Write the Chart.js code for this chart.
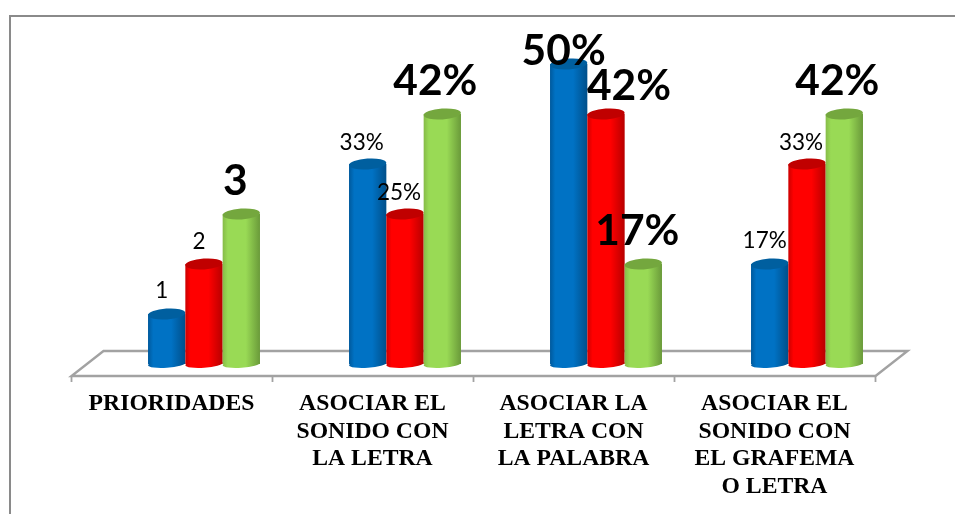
<!DOCTYPE html>
<html><head><meta charset="utf-8">
<style>html,body{margin:0;padding:0;background:#fff}#w{width:955px;height:514px;position:relative}</style>
<script src="https://cdn.jsdelivr.net/npm/chart.js@4"></script>
</head><body><div id="w"><canvas id="c" width="955" height="514"></canvas></div>
<script>
const categories = [
  ["PRIORIDADES"],
  ["ASOCIAR EL","SONIDO CON","LA LETRA"],
  ["ASOCIAR LA","LETRA CON","LA PALABRA"],
  ["ASOCIAR EL","SONIDO CON","EL GRAFEMA","O LETRA"]
];
const blueValues  = [1,4,6,2];
const redValues   = [2,3,5,4];
const greenValues = [3,5,2,5];
const blueLabels  = ["1","33%","50%","17%"];
const redLabels   = ["2","25%","42%","33%"];
const greenLabels = ["3","42%","17%","42%"];

const labelSets = [blueLabels, redLabels, greenLabels];
// label nudges from the top of each cylinder [dx, baseline dy]
const nudges = [
  [[-5,-16],[-6,-14],[-5,1],[-5,-16]],
  [[-5,-15],[-6,-14],[23,-14],[-6,-14]],
  [[-6,-19],[-7,-19],[-6,-19],[-7,-19]]
];
const isBig = (ds,i) => ds===2 || i===2;
const palettes = [
  {edgeL:'#00599c',mid:'#0072c4',edgeR:'#004f8a',cap:'#005f9f'},
  {edgeL:'#cc0000',mid:'#ff0000',edgeR:'#b80000',cap:'#c00000'},
  {edgeL:'#86bb48',mid:'#99da55',edgeR:'#6a9a3a',cap:'#74a73e'}
];
const TILT=-0.07, RY=5.4;

function grad(ctx,x0,x1,p){
  const g=ctx.createLinearGradient(x0,0,x1,0);
  g.addColorStop(0,p.edgeL);g.addColorStop(.14,p.mid);g.addColorStop(.62,p.mid);g.addColorStop(1,p.edgeR);
  return g;
}

// The library positions the bars; they are painted left to right so each cylinder overlaps the previous one.
const cylinders={
  id:'cylinders',
  beforeDatasetDraw(){return false},
  afterDatasetsDraw(chart){
    const ctx=chart.ctx;
    ctx.save();
    palettes.forEach((p,ds)=>{
      chart.getDatasetMeta(ds).data.forEach(el=>{
        const rx=el.width/2, g=grad(ctx,el.x-rx,el.x+rx,p);
        ctx.fillStyle=g;
        ctx.fillRect(el.x-rx,el.y,el.width,el.base-el.y);
        ctx.beginPath();ctx.ellipse(el.x,el.base,rx,RY-1.6,TILT,0,Math.PI*2);ctx.fill();
        ctx.fillStyle=p.cap;
        ctx.beginPath();ctx.ellipse(el.x,el.y,rx,RY,TILT,0,Math.PI*2);ctx.fill();
      });
    });
    ctx.restore();
  }
};
const floorAndFrame={
  id:'floorAndFrame',
  beforeDatasetsDraw(chart){
    const ctx=chart.ctx, xs=chart.scales.x, base=chart.chartArea.bottom;
    const depth=32, front=base+12, back=base-13, n=categories.length;
    ctx.save();
    ctx.strokeStyle='#8a8a8a';ctx.lineWidth=2;
    ctx.beginPath();ctx.moveTo(10,514);ctx.lineTo(10,16);ctx.lineTo(955,16);ctx.stroke();
    ctx.strokeStyle='#a2a2a2';ctx.lineWidth=2.4;
    ctx.beginPath();
    ctx.moveTo(xs.left-depth,front);ctx.lineTo(xs.right-depth,front);
    ctx.lineTo(xs.right,back);ctx.lineTo(xs.left,back);ctx.closePath();ctx.stroke();
    ctx.lineWidth=1.8;
    for(let i=0;i<=n;i++){
      const x=xs.left-depth+(xs.right-xs.left)*i/n;
      ctx.beginPath();ctx.moveTo(x,front);ctx.lineTo(x,front+6);ctx.stroke();
    }
    ctx.restore();
  }
};
const valueLabels={
  id:'valueLabels',
  afterDatasetsDraw(chart){
    const ctx=chart.ctx;
    ctx.save();ctx.fillStyle='#000';ctx.textAlign='center';ctx.textBaseline='alphabetic';
    labelSets.forEach((set,ds)=>{
      const els=chart.getDatasetMeta(ds).data;
      set.forEach((t,i)=>{
        const big=isBig(ds,i), n=nudges[ds][i];
        ctx.font=(big?'bold 42.5px':'22.5px')+' Lato, "Open Sans", sans-serif';
        ctx.fillText(t,els[i].x+n[0],els[i].y+n[1]);
      });
    });
    ctx.restore();
  }
};
const mk=vals=>({data:vals,backgroundColor:'#888',borderWidth:0,categoryPercentage:.557,barPercentage:1});
new Chart(document.getElementById('c'),{
  type:'bar',
  data:{labels:categories,datasets:[mk(blueValues),mk(redValues),mk(greenValues)]},
  plugins:[floorAndFrame,cylinders,valueLabels],
  options:{
    responsive:false,animation:false,
    layout:{padding:{left:103.5,right:47.5,top:64,bottom:0}},
    plugins:{legend:{display:false},title:{display:false},tooltip:{enabled:false}},
    scales:{
      y:{display:false,min:0,max:6},
      x:{
        grid:{display:false},border:{display:false},
        afterFit(s){s.height=150},
        ticks:{autoSkip:false,maxRotation:0,minRotation:0,padding:18,labelOffset:-32.5,color:'#000',
          font:{family:'"Liberation Serif"',weight:'bold',size:23.7,lineHeight:'27.7px'}}
      }
    }
  }
});
</script></body></html>
